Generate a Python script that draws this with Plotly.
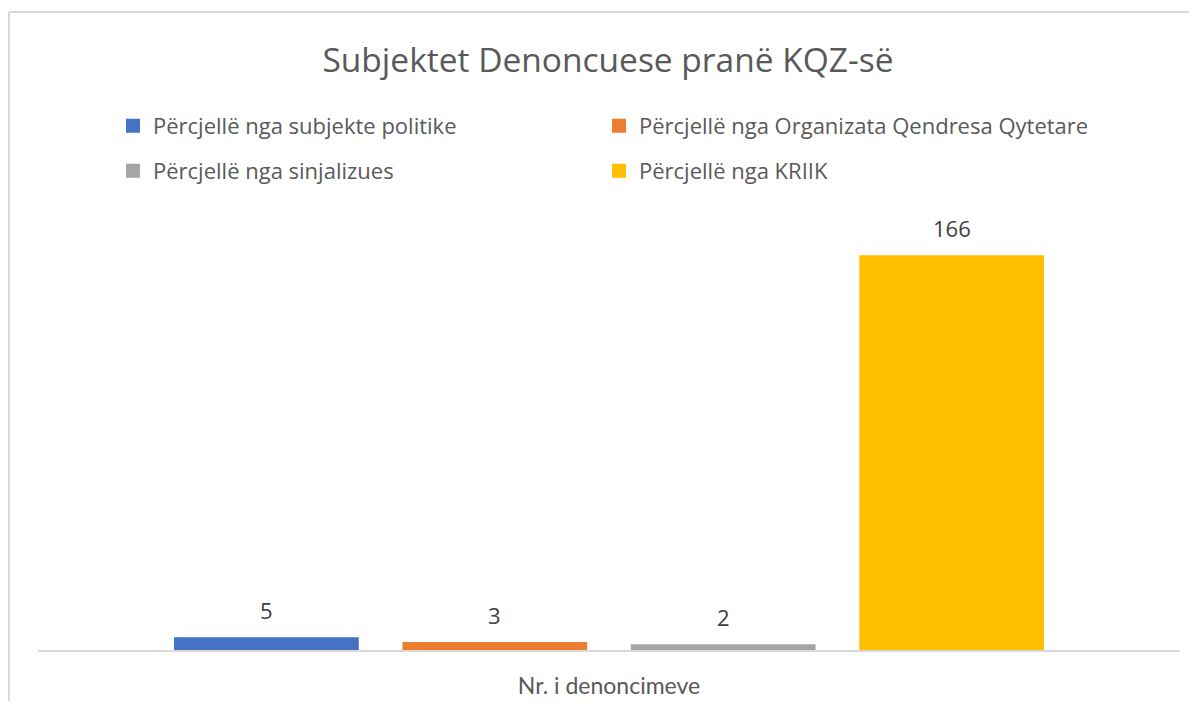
import plotly.graph_objects as go

category = ["Nr. i denoncimeve"]
series_names = [
    "Përcjellë nga subjekte politike",
    "Përcjellë nga Organizata Qendresa Qytetare",
    "Përcjellë nga sinjalizues",
    "Përcjellë nga KRIIK",
]
series_values = [5, 3, 2, 166]
series_colors = ["#4472C4", "#ED7D31", "#A5A5A5", "#FFC000"]
title_text = "Subjektet Denoncuese pranë KQZ-së"

# page body has an 8px margin, so the figure is sized to the visible area
W, H = 1181, 693
ML, MR, MT, MB = 30, 9, 215, 51
BARGAP = 0.2
plot_w = W - ML - MR
plot_h = H - MT - MB
slot = plot_w * (1 - BARGAP) / len(series_values)

FONT = "Open Sans"
TXT = "#595959"

# legend grid: two columns, two rows
legend_cols = [105, 591]
legend_rows = [118, 163]

fig = go.Figure()
layout_legends = {}
for i, (name, val, col) in enumerate(zip(series_names, series_values, series_colors)):
    lid = "legend" if i == 0 else f"legend{i + 1}"
    fig.add_trace(go.Bar(
        x=category, y=[val], name=name, marker_color=col,
        marker_line=dict(color=col, width=2),
        legend=lid,
    ))
    fig.add_annotation(
        x=category[0], y=val, xref="x", yref="y",
        text=str(val), showarrow=False,
        xshift=(i - (len(series_values) - 1) / 2) * slot,
        yshift=28, yanchor="middle",
        font=dict(family=FONT, size=22, color="#404040"),
    )
    layout_legends[lid] = dict(
        orientation="h", xref="container", yref="container",
        x=legend_cols[i % 2] / W, y=1 - legend_rows[i // 2] / H,
        xanchor="left", yanchor="middle",
        font=dict(family=FONT, size=22, color=TXT),
        bgcolor="rgba(0,0,0,0)", borderwidth=0,
    )

fig.update_layout(
    width=W, height=H,
    margin=dict(l=ML, r=MR, t=MT, b=MB, autoexpand=False),
    paper_bgcolor="white", plot_bgcolor="white",
    barmode="group", bargap=BARGAP, bargroupgap=0.2,
    title=dict(text=title_text, x=600 / W, xanchor="center",
               y=1 - 52 / H, yanchor="middle", yref="container",
               font=dict(family=FONT, size=33.5, color=TXT)),
    xaxis=dict(showline=True, linecolor="#D9D9D9", linewidth=2,
               ticks="", showgrid=False, ticklabelstandoff=14,
               tickfont=dict(family="Lato", size=23, color=TXT)),
    yaxis=dict(visible=False, range=[0, 180], showgrid=False, zeroline=False),
    showlegend=True,
    **layout_legends,
)

# outer chart border (top and left edges visible)
top_y = 1 + (MT - 4) / plot_h
left_x = (1 - ML) / plot_w
fig.add_shape(type="line", xref="paper", yref="paper",
              x0=left_x, x1=(W + 5 - ML) / plot_w, y0=top_y, y1=top_y,
              line=dict(color="#D9D9D9", width=2))
fig.add_shape(type="line", xref="paper", yref="paper",
              x0=left_x, x1=left_x, y0=-(MB + 5) / plot_h, y1=top_y,
              line=dict(color="#D9D9D9", width=2))

fig.write_html("out.html")
